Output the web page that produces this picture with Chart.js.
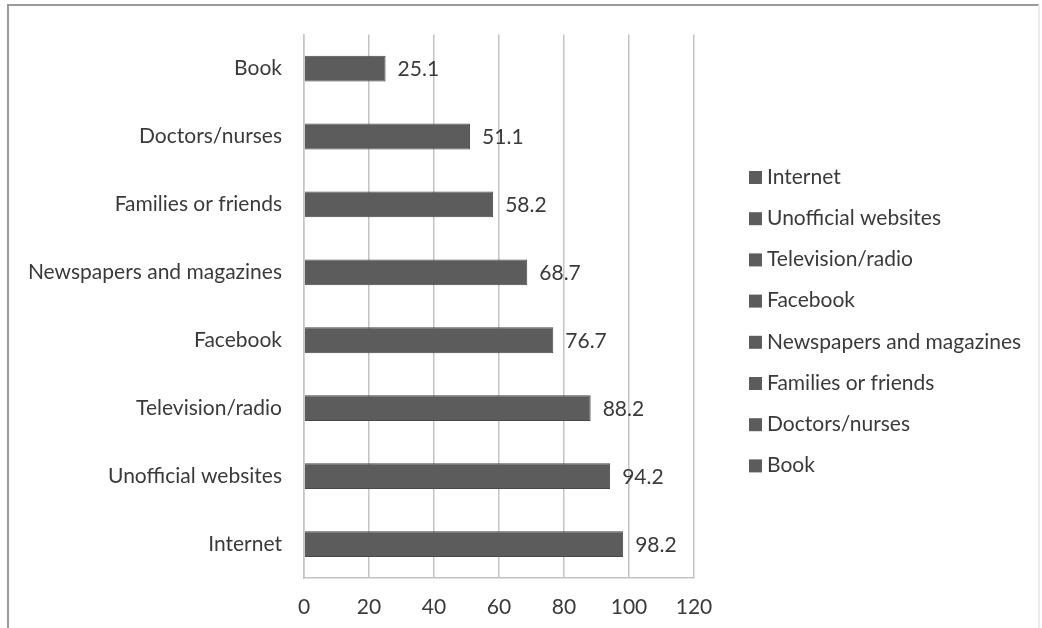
<!DOCTYPE html>
<html>
<head>
<meta charset="utf-8">
<script src="https://cdn.jsdelivr.net/npm/chart.js@4/dist/chart.umd.min.js"></script>
<style>
  html, body { margin: 0; padding: 0; background: #fff; }
  #wrap { width: 1042px; height: 628px; position: relative; }
</style>
</head>
<body>
<div id="wrap"><canvas id="barChart"></canvas></div>
<script>
// Sources of information (top to bottom as drawn)
const categories = ["Book", "Doctors/nurses", "Families or friends", "Newspapers and magazines",
    "Facebook", "Television/radio", "Unofficial websites", "Internet"];
const values = [25.1, 51.1, 58.2, 68.7, 76.7, 88.2, 94.2, 98.2];
const xTicks = [0, 20, 40, 60, 80, 100, 120];

const barColor = "#5c5c5c";
const textColor = "#3a3a3a";
const fontFamily = "Lato, 'Open Sans', sans-serif";
const fontSize = 21;

// value labels next to the bar ends
const valueLabels = {
    id: "valueLabels",
    afterDatasetsDraw(chart) {
        const ctx = chart.ctx;
        const meta = chart.getDatasetMeta(0);
        ctx.save();
        ctx.font = fontSize + "px " + fontFamily;
        ctx.fillStyle = textColor;
        ctx.textBaseline = "middle";
        ctx.textAlign = "left";
        meta.data.forEach((bar, i) => {
            ctx.fillText(chart.data.datasets[0].data[i].toFixed(1), bar.x + 12, bar.y + 1);
        });
        ctx.restore();
    }
};

// legend on the right, one entry per category (reverse order), plus the outer frame
const sideLegend = {
    id: "sideLegend",
    afterDraw(chart) {
        const ctx = chart.ctx;
        const labels = chart.data.labels.slice().reverse();
        ctx.save();
        ctx.font = fontSize + "px " + fontFamily;
        ctx.textBaseline = "middle";
        ctx.textAlign = "left";
        labels.forEach((lab, i) => {
            const y = 177 + i * 41.2;
            ctx.fillStyle = barColor;
            ctx.fillRect(749, y - 6, 13, 13);
            ctx.fillStyle = textColor;
            ctx.fillText(lab, 767, y);
        });
        // frame
        ctx.strokeStyle = "#9a9a9a";
        ctx.lineWidth = 2;
        ctx.beginPath();
        ctx.moveTo(8, 640);
        ctx.lineTo(8, 5);
        ctx.lineTo(1039, 5);
        ctx.stroke();
        ctx.strokeStyle = "#ececec";
        ctx.beginPath();
        ctx.moveTo(1039, 5);
        ctx.lineTo(1039, 640);
        ctx.stroke();
        ctx.restore();
    }
};

const ctx = document.getElementById("barChart").getContext("2d");
new Chart(ctx, {
    type: "bar",
    data: {
        labels: categories,
        datasets: [{
            label: "Sources",
            data: values,
            backgroundColor: barColor,
            borderColor: "#484848",
            borderWidth: 1,
            categoryPercentage: 1,
            barPercentage: 0.38
        }]
    },
    options: {
        indexAxis: "y",
        responsive: true,
        maintainAspectRatio: false,
        animation: false,
        layout: { padding: { top: 31, right: 348, bottom: 0, left: 0 } },
        plugins: {
            legend: { display: false },
            tooltip: { enabled: false }
        },
        scales: {
            x: {
                min: 0,
                max: 120,
                afterFit(scale) { scale.height = 50; },
                afterBuildTicks(scale) { scale.ticks = xTicks.map(v => ({ value: v })); },
                grid: { color: "#c4c4c4", drawTicks: false, lineWidth: 1.5 },
                border: { color: "#c4c4c4", width: 1.5 },
                ticks: {
                    padding: 17,
                    color: textColor,
                    font: { family: fontFamily, size: fontSize }
                }
            },
            y: {
                afterFit(scale) { scale.width = 304; },
                grid: { display: false, drawTicks: false },
                border: { color: "#c4c4c4", width: 1.5 },
                ticks: {
                    padding: 22,
                    color: textColor,
                    font: { family: fontFamily, size: fontSize }
                }
            }
        }
    },
    plugins: [valueLabels, sideLegend]
});
</script>
</body>
</html>
